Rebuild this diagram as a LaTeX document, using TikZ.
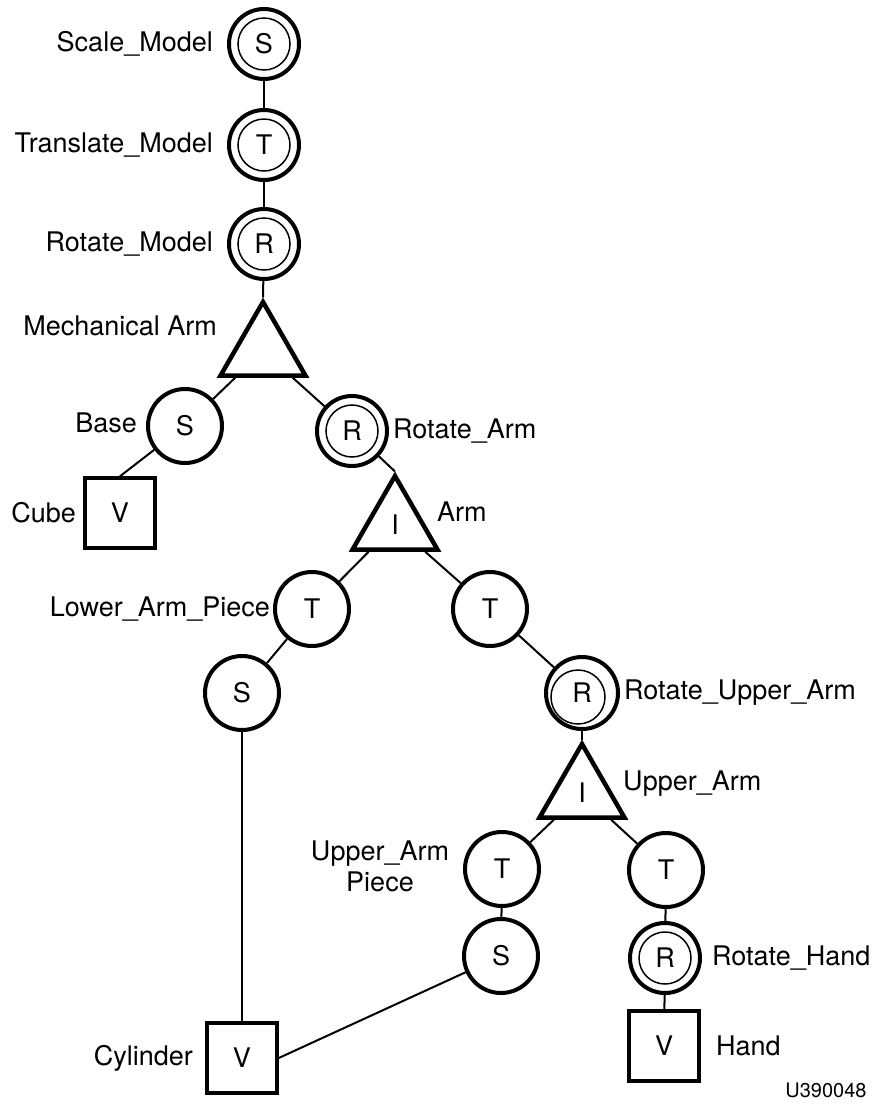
\documentclass[tikz,border=0pt]{standalone}
\usepackage{fontspec}
\setmainfont{TeX Gyre Heros}
\usetikzlibrary{shapes.geometric}
\tikzset{
  txt/.style={font=\fontsize{27}{31}\selectfont},
  lbl/.style={txt, inner sep=0pt},
  sc/.style={circle, draw, line width=4pt, minimum size=74pt, inner sep=0pt, txt},
  dc/.style={circle, draw, line width=4pt, minimum size=70pt, inner sep=0pt, txt,
    path picture={\draw[line width=1.5pt] (path picture bounding box.center) circle[radius=26pt];}},
  dcoff/.style={circle, draw, line width=4pt, minimum size=72pt, inner sep=0pt, txt,
    path picture={\draw[line width=1.5pt] ([shift={(-4pt,-4pt)}]path picture bounding box.center) circle[radius=27pt];}},
  sq/.style={rectangle, draw, line width=3.5pt, minimum size=70pt, inner sep=0pt, txt},
  tri/.style={regular polygon, regular polygon sides=3, draw, line width=4.5pt, minimum size=98pt, inner sep=0pt, txt},
  con/.style={line width=2pt}
}
\begin{document}
\begin{tikzpicture}[x=1pt,y=-1pt]
\useasboundingbox (0,0) rectangle (875,1104);
% nodes
\node[dc] (s1) at (264,44) {S};
\node[dc] (t1) at (264,145) {T};
\node[dc] (r1) at (264,244) {R};
\node[tri] (mech) at (263,351) {};
\node[sc] (base) at (185,426) {S};
\node[dc] (rarm) at (352,431) {R};
\node[sq] (cube) at (120,513) {V};
\node[tri] (arm) at (395,525) {I};
\node[sc] (lap) at (312,609) {T};
\node[sc] (t2) at (490,609) {T};
\node[sc] (s2) at (242,693) {S};
\node[dcoff] (rua) at (582,693) {R};
\node[tri] (ua) at (582,793) {I};
\node[sc] (uap) at (502,869) {T};
\node[sc] (t3) at (666,870) {T};
\node[sc] (s3) at (501,956) {S};
\node[dc] (rh) at (665,958) {R};
\node[sq] (cyl) at (242,1058) {V};
\node[sq] (hand) at (664,1046) {V};
% labels
\node[lbl, anchor=east] (l1) at (213,44) {Scale\_Model};
\node[lbl, anchor=east] (l2) at (213,145) {Translate\_Model};
\node[lbl, anchor=east] (l3) at (213,244) {Rotate\_Model};
\node[lbl, anchor=east] (l4) at (217,326) {Mechanical Arm};
\node[lbl, anchor=east] (l5) at (137,423) {Base};
\node[lbl, anchor=west] (l6) at (393,431) {Rotate\_Arm};
\node[lbl, anchor=east] (l7) at (76,513) {Cube};
\node[lbl, anchor=west] (l8) at (437,512) {Arm};
\node[lbl, anchor=east] (l9) at (270,609) {Lower\_Arm\_Piece};
\node[lbl, anchor=west] (l10) at (624,693) {Rotate\_Upper\_Arm};
\node[lbl, anchor=west] (l11) at (623,784) {Upper\_Arm};
\node[lbl, align=center] (l12) at (380,866) {Upper\_Arm\\Piece};
\node[lbl, anchor=west] (l13) at (712,958) {Rotate\_Hand};
\node[lbl, anchor=east] (l14) at (193,1058) {Cylinder};
\node[lbl, anchor=west] (l15) at (716,1046) {Hand};
\node[inner sep=0pt, font=\fontsize{20}{24}\selectfont] (code) at (826,1090) {U390048};
% connectors
\draw[con] (s1) -- (t1);
\draw[con] (t1) -- (r1);
\draw[con] (r1) -- (mech.corner 1);
\draw[con] (mech) -- (base);
\draw[con] (mech) -- (rarm);
\draw[con] (base) -- (cube.north);
\draw[con] (rarm) -- (arm.corner 1);
\draw[con] (arm) -- (lap);
\draw[con] (arm) -- (t2);
\draw[con] (lap) -- (s2);
\draw[con] (t2) -- (rua);
\draw[con] (s2) -- (cyl.north);
\draw[con] (rua) -- (ua.corner 1);
\draw[con] (ua) -- (uap);
\draw[con] (ua) -- (t3);
\draw[con] (uap) -- (s3);
\draw[con] (t3) -- (rh);
\draw[con] (s3) -- (cyl.east);
\draw[con] (rh) -- (hand);
\end{tikzpicture}
\end{document}
